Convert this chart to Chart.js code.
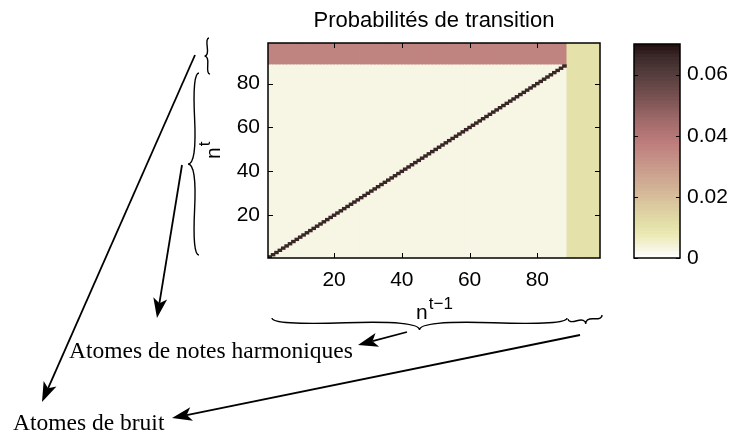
<!DOCTYPE html>
<html>
<head>
<meta charset="utf-8">
<script src="https://cdn.jsdelivr.net/npm/chart.js@4.4.1/dist/chart.umd.min.js"></script>
<style>
  html, body { margin: 0; padding: 0; background: #fff; }
  #wrap { position: relative; width: 731px; height: 435px; overflow: hidden; }
  #heat { position: absolute; left: 0; top: 0; }
  #cbar { position: absolute; left: 600px; top: 0; }
</style>
</head>
<body>
<div id="wrap">
  <canvas id="heat" width="731" height="435"></canvas>
  <canvas id="cbar" width="131" height="435"></canvas>
</div>
<script>
// atoms n = 1..98 : 88 harmonic note atoms, then 10 noise atoms
const atomIndex = Array.from({ length: 98 }, (_, i) => i + 1);
const groupNames = ['Atomes de notes harmoniques', 'Atomes de bruit'];
const groupSizes = [88, 10];

// transition probabilities
const transitionKinds = ['sameNote', 'otherNote', 'noteToNoise', 'fromNoise'];
const transitionProbs = [0.066, 0.003, 0.036, 0.0102];

const xTickValues = [20, 40, 60, 80];
const yTickValues = [20, 40, 60, 80];
const cbarTicks = [0, 0.02, 0.04, 0.06];
const cbarRange = [0, 0.07];
const cbarLevels = 64;

// colormap (value -> colour)
const cmapStops  = [0, 0.003, 0.007, 0.011, 0.017, 0.023, 0.030, 0.038, 0.045, 0.052, 0.060, 0.066, 0.070];
const cmapColors = ['#ffffff', '#f6f5e3', '#ecebb8', '#e4dfa8', '#dbc9a0', '#d1b195', '#c8998b',
                    '#bd7b7b', '#a06a6a', '#7b5353', '#553d3d', '#3a2828', '#220c0c'];

function hexToRgb(h) {
  return [parseInt(h.slice(1, 3), 16), parseInt(h.slice(3, 5), 16), parseInt(h.slice(5, 7), 16)];
}
function colorOf(v) {
  const [lo, hi] = cbarRange;
  const k = Math.min(cbarLevels - 1, Math.max(0, Math.floor((v - lo) / (hi - lo) * cbarLevels)));
  const q = lo + (k + 0.5) / cbarLevels * (hi - lo);
  let i = 0;
  while (i < cmapStops.length - 2 && q > cmapStops[i + 1]) i++;
  const t = Math.min(1, Math.max(0, (q - cmapStops[i]) / (cmapStops[i + 1] - cmapStops[i])));
  const a = hexToRgb(cmapColors[i]), b = hexToRgb(cmapColors[i + 1]);
  const c = a.map((x, j) => Math.round(x + (b[j] - x) * t));
  return `rgb(${c[0]},${c[1]},${c[2]})`;
}

const prob = kind => transitionProbs[transitionKinds.indexOf(kind)];
const nHarm = groupSizes[0];
const nTop = groupSizes[0] + groupSizes[1] + 0.5;

// each column n^{t-1} is a stack of floating bars along n^t
const lowerCells = atomIndex.map(n => (n > 1 && n <= nHarm) ? [0.5, n - 0.5] : null);
const diagCells = atomIndex.map(n => n <= nHarm ? [n - 0.5, n + 0.5] : null);
const upperCells = atomIndex.map(n => n < nHarm ? [n + 0.5, nHarm + 0.5] : null);
const noteToNoiseCells = atomIndex.map(n => n <= nHarm ? [nHarm + 0.5, nTop] : null);
const fromNoiseCells = atomIndex.map(n => n > nHarm ? [0.5, nTop] : null);

const cellStyle = { grouped: false, barPercentage: 1, categoryPercentage: 1, borderWidth: 0, inflateAmount: 0.4 };

function drawBrace(ctx, x1, y1, x2, y2, w, q) {
  // curly brace from (x1,y1) to (x2,y2), bulging by w
  let dx = x1 - x2, dy = y1 - y2;
  const len = Math.hypot(dx, dy);
  dx /= len; dy /= len;
  const qx1 = x1 + q * w * dy, qy1 = y1 - q * w * dx;
  const qx2 = (x1 - 0.25 * len * dx) + (1 - q) * w * dy, qy2 = (y1 - 0.25 * len * dy) - (1 - q) * w * dx;
  const tx = (x1 - 0.5 * len * dx) + w * dy, ty = (y1 - 0.5 * len * dy) - w * dx;
  const qx3 = x2 + q * w * dy, qy3 = y2 - q * w * dx;
  const qx4 = (x1 - 0.75 * len * dx) + (1 - q) * w * dy, qy4 = (y1 - 0.75 * len * dy) - (1 - q) * w * dx;
  ctx.beginPath();
  ctx.moveTo(x1, y1);
  ctx.quadraticCurveTo(qx1, qy1, qx2, qy2);
  ctx.quadraticCurveTo(2 * qx2 - qx1, 2 * qy2 - qy1, tx, ty);
  ctx.moveTo(x2, y2);
  ctx.quadraticCurveTo(qx3, qy3, qx4, qy4);
  ctx.quadraticCurveTo(2 * qx4 - qx3, 2 * qy4 - qy3, tx, ty);
  ctx.stroke();
}

function drawArrow(ctx, x1, y1, x2, y2) {
  const len = Math.hypot(x2 - x1, y2 - y1);
  const ux = (x2 - x1) / len, uy = (y2 - y1) / len;
  const nx = -uy, ny = ux;
  const L = 20, W = 7, inset = 5;
  ctx.beginPath();
  ctx.moveTo(x1, y1);
  ctx.lineTo(x2 - (L - inset) * ux, y2 - (L - inset) * uy);
  ctx.stroke();
  ctx.beginPath();
  ctx.moveTo(x2, y2);
  ctx.lineTo(x2 - L * ux + W * nx, y2 - L * uy + W * ny);
  ctx.lineTo(x2 - (L - inset) * ux, y2 - (L - inset) * uy);
  ctx.lineTo(x2 - L * ux - W * nx, y2 - L * uy - W * ny);
  ctx.closePath();
  ctx.fill();
}

const heatDecor = {
  id: 'heatDecor',
  afterDraw(chart) {
    const { ctx, chartArea: ca, scales } = chart;
    ctx.save();
    ctx.strokeStyle = '#000';
    ctx.fillStyle = '#000';

    // frame and inward ticks
    ctx.lineWidth = 1.5;
    ctx.strokeRect(ca.left, ca.top, ca.right - ca.left, ca.bottom - ca.top);
    ctx.lineWidth = 1;
    ctx.beginPath();
    xTickValues.forEach(v => {
      const x = Math.round(scales.x.getPixelForValue(atomIndex.indexOf(v))) + 0.5;
      ctx.moveTo(x, ca.bottom); ctx.lineTo(x, ca.bottom - 5);
      ctx.moveTo(x, ca.top); ctx.lineTo(x, ca.top + 5);
    });
    yTickValues.forEach(v => {
      const y = Math.round(scales.y.getPixelForValue(v)) + 0.5;
      ctx.moveTo(ca.left, y); ctx.lineTo(ca.left + 5, y);
      ctx.moveTo(ca.right, y); ctx.lineTo(ca.right - 5, y);
    });
    ctx.stroke();

    // title
    const cx = (ca.left + ca.right) / 2;
    ctx.font = '22px "Liberation Sans", Arial, sans-serif';
    ctx.textAlign = 'center';
    ctx.textBaseline = 'alphabetic';
    ctx.fillText('Probabilités de transition', cx, 27);

    // x label n^{t-1}
    ctx.textAlign = 'left';
    ctx.font = '21px "Liberation Sans", Arial, sans-serif';
    const wn = ctx.measureText('n').width;
    ctx.font = '17px "Liberation Sans", Arial, sans-serif';
    const ws = ctx.measureText('t\u22121').width;
    const x0 = cx - (wn + ws) / 2;
    ctx.font = '21px "Liberation Sans", Arial, sans-serif';
    ctx.fillText('n', x0, 319);
    ctx.font = '17px "Liberation Sans", Arial, sans-serif';
    ctx.fillText('t\u22121', x0 + wn + 1, 309);

    // y label n^t
    ctx.save();
    ctx.translate(220, 159);
    ctx.rotate(-Math.PI / 2);
    ctx.font = '21px "Liberation Sans", Arial, sans-serif';
    ctx.fillText('n', 0, 0);
    ctx.font = '17px "Liberation Sans", Arial, sans-serif';
    ctx.fillText('t', wn + 1, -10);
    ctx.restore();

    // braces
    ctx.lineWidth = 1.4;
    drawBrace(ctx, 209, 38, 210, 74, 5, 0.6);
    drawBrace(ctx, 199, 73, 199, 255, 11, 0.6);
    drawBrace(ctx, 272, 318, 567, 318, 12, 0.6);
    drawBrace(ctx, 568, 319, 602, 315, 7, 0.6);

    // arrows
    ctx.lineWidth = 1.8;
    drawArrow(ctx, 195, 55, 42, 402);
    drawArrow(ctx, 182, 165, 157, 318);
    drawArrow(ctx, 407, 332, 358, 345);
    drawArrow(ctx, 580, 335, 172, 418);

    // group names
    ctx.font = '23.5px "Liberation Serif", "Times New Roman", serif';
    ctx.textAlign = 'left';
    ctx.fillText(groupNames[0], 69, 358);
    ctx.fillText(groupNames[1], 13, 430);
    ctx.restore();
  }
};

// datasets are painted last-to-first, so the diagonal goes first to end on top
new Chart(document.getElementById('heat'), {
  type: 'bar',
  data: {
    labels: atomIndex,
    datasets: [
      { data: diagCells, backgroundColor: colorOf(prob('sameNote')), ...cellStyle, inflateAmount: 0.6 },
      { data: lowerCells, backgroundColor: colorOf(prob('otherNote')), ...cellStyle },
      { data: upperCells, backgroundColor: colorOf(prob('otherNote')), ...cellStyle },
      { data: noteToNoiseCells, backgroundColor: colorOf(prob('noteToNoise')), ...cellStyle },
      { data: fromNoiseCells, backgroundColor: colorOf(prob('fromNoise')), ...cellStyle },
    ],
  },
  options: {
    responsive: false,
    animation: false,
    layout: { padding: { top: 43, right: 131, left: 0, bottom: 0 } },
    plugins: { legend: { display: false }, tooltip: { enabled: false }, title: { display: false } },
    scales: {
      x: {
        type: 'category', offset: true,
        grid: { display: false, drawTicks: false }, border: { display: false },
        ticks: {
          autoSkip: false, maxRotation: 0, minRotation: 0, padding: 10, color: '#000',
          font: { size: 21, family: '"Liberation Sans", Arial, sans-serif' },
          callback: (_, i) => xTickValues.includes(atomIndex[i]) ? String(atomIndex[i]) : '',
        },
        afterFit: s => { s.height = 177; },
      },
      y: {
        type: 'linear', min: 0.5, max: nTop,
        grid: { display: false, drawTicks: false }, border: { display: false },
        afterBuildTicks: s => { s.ticks = yTickValues.map(v => ({ value: v })); },
        ticks: { padding: 8, color: '#000', font: { size: 21, family: '"Liberation Sans", Arial, sans-serif' } },
        afterFit: s => { s.width = 268; },
      },
    },
  },
  plugins: [heatDecor],
});

// colour bar
const levelEdges = Array.from({ length: cbarLevels + 1 },
  (_, k) => cbarRange[0] + k / cbarLevels * (cbarRange[1] - cbarRange[0]));
const cbarDatasets = levelEdges.slice(0, -1).map((lo, k) => ({
  data: [[lo, levelEdges[k + 1]]],
  backgroundColor: colorOf((lo + levelEdges[k + 1]) / 2),
  ...cellStyle,
}));

const cbarDecor = {
  id: 'cbarDecor',
  afterDraw(chart) {
    const { ctx, chartArea: ca, scales } = chart;
    ctx.save();
    ctx.strokeStyle = '#000';
    ctx.lineWidth = 1.5;
    ctx.strokeRect(ca.left, ca.top, ca.right - ca.left, ca.bottom - ca.top);
    ctx.lineWidth = 1;
    ctx.beginPath();
    cbarTicks.forEach(v => {
      const y = Math.round(scales.y.getPixelForValue(v)) + 0.5;
      ctx.moveTo(ca.left, y); ctx.lineTo(ca.left + 4, y);
      ctx.moveTo(ca.right, y); ctx.lineTo(ca.right - 4, y);
    });
    ctx.stroke();
    ctx.restore();
  }
};

new Chart(document.getElementById('cbar'), {
  type: 'bar',
  data: { labels: [''], datasets: cbarDatasets },
  options: {
    responsive: false,
    animation: false,
    layout: { padding: { top: 44, left: 34, bottom: 177, right: 0 } },
    plugins: { legend: { display: false }, tooltip: { enabled: false } },
    scales: {
      x: { display: false },
      y: {
        position: 'right', min: cbarRange[0], max: cbarRange[1],
        grid: { display: false, drawTicks: false }, border: { display: false },
        afterBuildTicks: s => { s.ticks = cbarTicks.map(v => ({ value: v })); },
        ticks: {
          padding: 7, color: '#000', font: { size: 21, family: '"Liberation Sans", Arial, sans-serif' },
          callback: v => String(v),
        },
        afterFit: s => { s.width = 51; },
      },
    },
  },
  plugins: [cbarDecor],
});
</script>
</body>
</html>
